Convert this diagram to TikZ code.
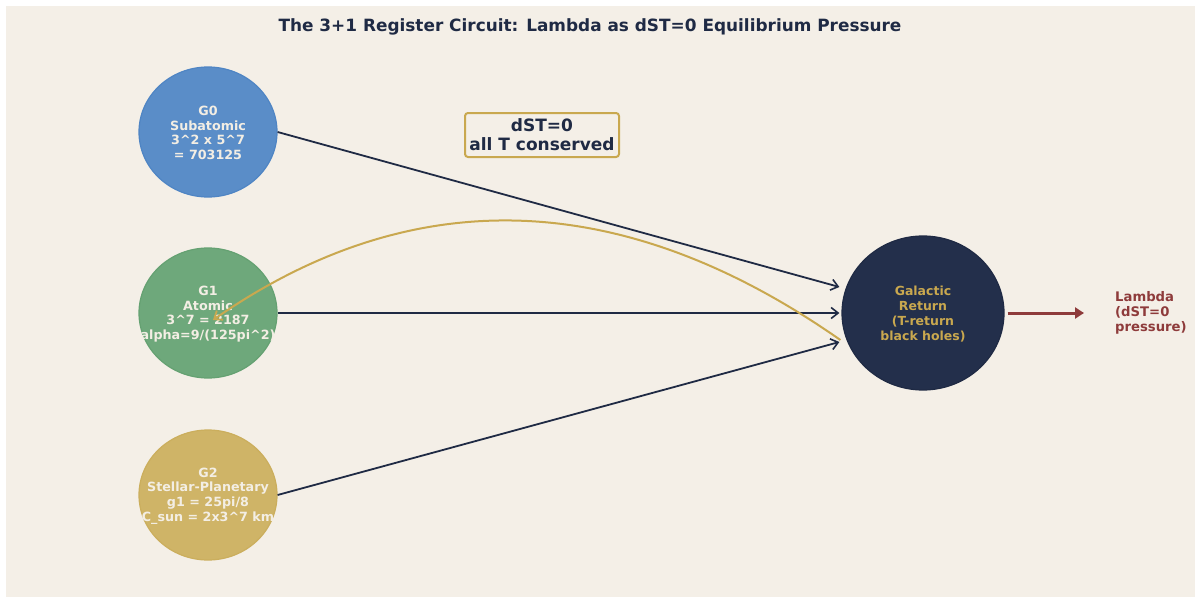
\documentclass[tikz,border=0pt]{standalone}
\usepackage{fontspec}
\setmainfont{DejaVu Sans}
\usetikzlibrary{shapes.geometric,arrows.meta,calc}
\definecolor{bgbeige}{HTML}{F4EFE7}
\definecolor{cblue}{HTML}{5A8DC8}
\definecolor{cblueb}{HTML}{4F85C4}
\definecolor{cgreen}{HTML}{6EA87B}
\definecolor{cgreenb}{HTML}{65A172}
\definecolor{cgold}{HTML}{CFB467}
\definecolor{cgoldb}{HTML}{CBAE5D}
\definecolor{cnavy}{HTML}{232F4B}
\definecolor{navyline}{HTML}{1F2A44}
\definecolor{goldline}{HTML}{C9A84F}
\definecolor{cred}{HTML}{8E3B3B}
\definecolor{lighttext}{HTML}{F3EEE4}
\tikzset{
  reg/.style={ellipse, minimum width=138pt, minimum height=130pt, inner sep=0pt, line width=1.2pt},
  regtext/.style={align=center, text=lighttext, inner sep=0pt, font=\fontsize{12.7}{14.6}\selectfont\bfseries},
  flow/.style={draw=navyline, line width=1.8pt, -{Straight Barb[length=7pt,width=11pt,line width=1.6pt]}},
}
\begin{document}
\begin{tikzpicture}[x=1pt,y=-1pt]
\useasboundingbox (0,0) rectangle (1195,597);
\fill[white] (0,0) rectangle (1195,597);
\fill[bgbeige] (6,6) rectangle (1195,597);
\node[font=\fontsize{16.9}{20}\selectfont\bfseries, text=navyline] (title) at (590,26.5) {The 3+1 Register Circuit: Lambda as dST=0 Equilibrium Pressure};
\node[reg, fill=cblue, draw=cblueb] (g0) at (208,132) {};
\node[regtext] (g0t) at ($(g0.center)+(0,1)$) {G0\\Subatomic\\3\^{}2 x 5\^{}7\\= 703125};
\node[reg, fill=cgreen, draw=cgreenb] (g1) at (208,313) {};
\node[regtext] (g1t) at ($(g1.center)+(0,1)$) {G1\\Atomic\\3\^{}7 = 2187\\alpha=9/(125pi\^{}2)};
\node[reg, fill=cgold, draw=cgoldb] (g2) at (208,495) {};
\node[regtext] (g2t) at ($(g2.center)+(0,1)$) {G2\\Stellar-Planetary\\g1 = 25pi/8\\C\_sun = 2x3\^{}7 km};
\node[ellipse, minimum width=162pt, minimum height=154pt, inner sep=0pt, fill=cnavy, draw=navyline, line width=1.2pt] (gal) at (923,313) {};
\node[align=center, text=goldline, inner sep=0pt, font=\fontsize{12.5}{15}\selectfont\bfseries] (galt) at ($(gal.center)+(0,1)$) {Galactic\\Return\\(T-return\\black holes)};
\node[draw=goldline, line width=2pt, rounded corners=3pt, fill=bgbeige, minimum width=154pt, minimum height=44pt,
  align=center, text=navyline, font=\fontsize{17}{19}\selectfont\bfseries, inner sep=2pt] (dst) at (542,135) {dST=0\\all T conserved};
\node[anchor=west, align=left, text=cred, inner sep=0pt, font=\fontsize{13.2}{15}\selectfont\bfseries] (lam) at (1115,313) {Lambda\\(dST=0\\pressure)};
\coordinate (in0) at ($(gal.west)+(-2,-26)$);
\coordinate (in1) at ($(gal.west)+(-2,0)$);
\coordinate (in2) at ($(gal.west)+(-2,29)$);
\coordinate (gs) at ($(gal.west)+(-1,27)$);
\coordinate (gt) at ($(g1.center)+(5,7)$);
\coordinate (lt) at ($(lam.west)+(-31,0)$);
\draw[flow] (g0.east) -- (in0);
\draw[flow] (g1.east) -- (in1);
\draw[flow] (g2.east) -- (in2);
\draw[draw=goldline, line width=2pt, -{Straight Barb[length=7pt,width=11pt,line width=1.8pt]}]
  (gs) .. controls (623,188) and (413,181) .. (gt);
\draw[draw=cred, line width=3pt, -{Triangle[length=9pt,width=11pt]}] (gal.east) ++(3,0) -- (lt);
\end{tikzpicture}
\end{document}
